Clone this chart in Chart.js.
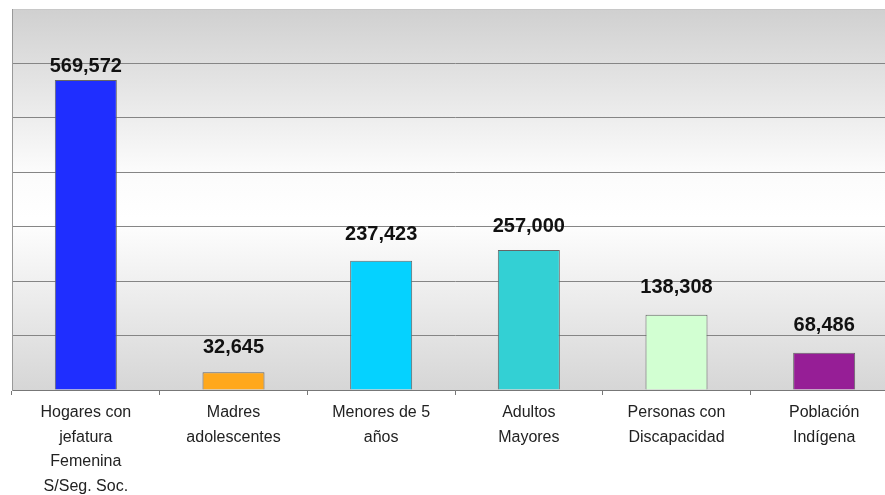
<!DOCTYPE html>
<html>
<head>
<meta charset="utf-8">
<script src="https://cdn.jsdelivr.net/npm/chart.js@4"></script>
<style>
    html, body { margin: 0; padding: 0; background: #fff; overflow: hidden; }
    #wrap { width: 898px; height: 495px; position: relative; }
</style>
</head>
<body>
<div id="wrap"><canvas id="chart" width="898" height="495"></canvas></div>
<script>

// ================= DATA =================

const categories = [
    ["Hogares con", "jefatura", "Femenina", "S/Seg. Soc."],
    ["Madres", "adolescentes"],
    ["Menores de 5", "años"],
    ["Adultos", "Mayores"],
    ["Personas con", "Discapacidad"],
    ["Población", "Indígena"]
];

const values = [569572, 32645, 237423, 257000, 138308, 68486];

const barColors = ["#1f2eff", "#ffa81c", "#05d2ff", "#33d0d4", "#d2ffd2", "#961e96"];

// gap (px) between bar top and its value label
const labelLift = [4, 15, 16, 14, 17, 17];

// ================= PLUGINS =================

const backgroundPlugin = {
    id: "bgGradient",
    beforeDraw(chart) {
        const { ctx, chartArea: a } = chart;
        const g = ctx.createLinearGradient(0, a.top, 0, a.bottom);
        g.addColorStop(0, "#d0d0d0");
        g.addColorStop(0.42, "#fbfbfb");
        g.addColorStop(0.55, "#ffffff");
        g.addColorStop(1, "#d6d6d6");
        ctx.save();
        ctx.fillStyle = g;
        ctx.fillRect(a.left, a.top, a.right - a.left, a.bottom - a.top);
        ctx.restore();
    }
};

const valueLabels = {
    id: "valueLabels",
    afterDatasetsDraw(chart) {
        const ctx = chart.ctx;
        const meta = chart.getDatasetMeta(0);
        ctx.save();
        ctx.font = "bold 20px 'Liberation Sans', Arial, sans-serif";
        ctx.fillStyle = "#111";
        ctx.textAlign = "center";
        ctx.textBaseline = "bottom";
        meta.data.forEach((bar, i) => {
            ctx.fillText(values[i].toLocaleString("en-US"), bar.x, bar.y - labelLift[i]);
        });
        ctx.restore();
    }
};

// ================= CHART =================

new Chart(document.getElementById("chart"), {
    type: "bar",
    data: {
        labels: categories,
        datasets: [{
            data: values,
            backgroundColor: barColors,
            borderColor: "#666",
            borderWidth: 1,
            barPercentage: 0.42,
            categoryPercentage: 1
        }]
    },
    options: {
        responsive: false,
        animation: false,
        layout: { padding: { top: 9, left: 12, right: 0, bottom: 0 } },
        plugins: {
            legend: { display: false },
            tooltip: { enabled: false }
        },
        scales: {
            x: {
                afterFit(scale) { scale.height = 105; },
                grid: {
                    drawOnChartArea: false,
                    offset: true,
                    tickLength: 5,
                    color: "#777"
                },
                border: { color: "#777", width: 1 },
                ticks: {
                    padding: 5,
                    color: "#222",
                    maxRotation: 0,
                    autoSkip: false,
                    font: { family: "'Liberation Sans', Arial, sans-serif", size: 16, lineHeight: 1.55 }
                }
            },
            y: {
                min: 0,
                max: 700000,
                afterFit(scale) { scale.width = 0; },
                ticks: { display: false, stepSize: 100000 },
                grid: {
                    drawTicks: false,
                    color: (c) => c.tick && c.tick.value === 700000 ? "#c8c8c8" : "#858585"
                },
                border: { display: true, color: "#999" }
            }
        }
    },
    plugins: [backgroundPlugin, valueLabels]
});
</script>
</body>
</html>
